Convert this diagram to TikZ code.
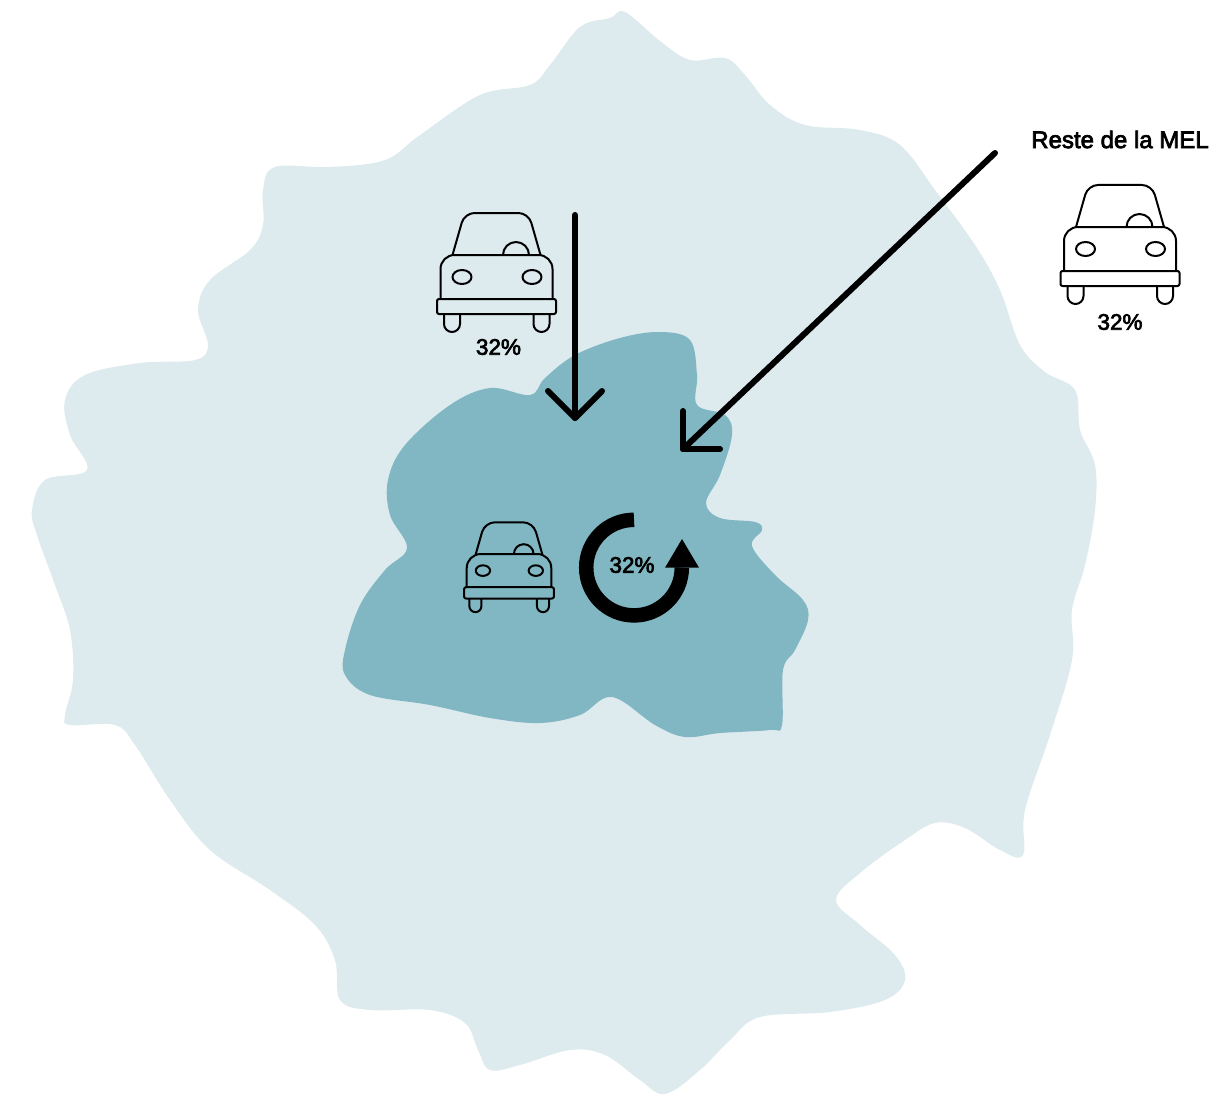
\documentclass[tikz,border=0pt]{standalone}
\usepackage{fontspec}
\setmainfont[FakeBold=3]{Liberation Sans}
\definecolor{outerblob}{HTML}{DDEAEE}
\definecolor{innerblob}{HTML}{81B7C3}
\tikzset{
  x=1pt,y=-1pt,
  carline/.style={draw=black,line width=2pt,line join=round},
  flow/.style={draw=black,line width=6pt,line cap=round,line join=round},
  pct/.style={inner sep=0pt,font=\fontsize{22.5}{24}\selectfont},
  car/.pic={
    \draw[carline,rounded corners=10pt] (-44,0)--(-32,-42)--(32,-42)--(44,0);
    \draw[carline] (6.5,0) arc[start angle=180,end angle=0,radius=13pt];
    \draw[carline,rounded corners=14pt] (-56,44)--(-56,0)--(56,0)--(56,44);
    \draw[carline,rounded corners=2pt] (-59.5,44) rectangle (59.5,59);
    \draw[carline] (-52.5,59)--(-52.5,69) arc[start angle=180,end angle=360,radius=8pt]--(-36.5,59);
    \draw[carline] (37,59)--(37,69) arc[start angle=180,end angle=360,radius=8pt]--(53,59);
    \draw[carline] (-34.5,22) ellipse[x radius=9.5pt,y radius=7pt];
    \draw[carline] (35.5,22) ellipse[x radius=9.5pt,y radius=7pt];
  }
}
\begin{document}
\begin{tikzpicture}
\useasboundingbox (0,0) rectangle (1209,1094);
\fill[outerblob] plot[smooth cycle,tension=0.6] coordinates {
(625,12)(660,41)(690,60)(725,58)(745,75)(770,105)(805,125)(860,130)(900,145)(935,190)(975,245)(1000,290)(1020,345)(1045,372)(1075,390)(1080,430)(1095,465)(1095,510)(1085,565)(1072,610)(1072,660)(1050,735)(1025,810)(1023,855)(1000,850)(965,828)(935,823)(905,840)(860,873)(836,900)(860,925)(895,955)(905,980)(885,1000)(830,1012)(760,1017)(730,1040)(700,1070)(665,1094)(640,1080)(605,1055)(570,1050)(520,1065)(490,1070)(478,1050)(465,1023)(430,1010)(370,1010)(340,1000)(335,960)(315,925)(270,890)(210,850)(170,800)(135,745)(115,725)(70,725)(65,715)(73,680)(70,630)(55,585)(37,535)(32,510)(45,480)(87,470)(70,435)(65,400)(85,375)(140,363)(195,360)(208,345)(198,310)(210,280)(250,250)(263,225)(263,190)(275,167)(330,167)(385,160)(420,135)(480,95)(530,85)(550,65)(580,27)(610,18)};
\fill[innerblob] plot[smooth cycle,tension=0.6] coordinates {
(660,332)(690,340)(697,375)(697,405)(725,415)(732,435)(720,475)(706,503)(720,518)(755,522)(762,530)(752,546)(775,575)(803,600)(808,620)(795,650)(783,670)(782,725)(770,730)(720,733)(685,737)(655,725)(612,697)(580,715)(540,723)(490,718)(430,705)(370,695)(345,675)(345,650)(360,605)(385,570)(407,548)(390,515)(388,480)(405,445)(450,405)(490,388)(530,395)(545,378)(575,355)(620,338)};
\pic at (496.5,255) {car};
\pic at (1120,227) {car};
\pic[scale=.755] at (509,554) {car};
\node[pct] (pctlocal) at (498.5,347) {32\%};
\node[pct] (pctmel) at (1120,322) {32\%};
\node[pct] (pctloop) at (632,565) {32\%};
\node[inner sep=0pt,font=\fontsize{24}{26}\selectfont] (mel) at (1120,139.5) {Reste de la MEL};
% flows
\coordinate (vstart) at (575,215);
\coordinate (vend) at (575,418);
\coordinate (vl) at (548,391);
\coordinate (vr) at (602,391);
\draw[flow] (vstart) -- (vend);
\draw[flow] (vl) -- (vend) -- (vr);
\coordinate (dstart) at (995,153);
\coordinate (dend) at (683,449);
\coordinate (da) at (683,411);
\coordinate (db) at (720,449);
\draw[flow] (dstart) -- (dend);
\draw[flow] (da) -- (dend) -- (db);
% loop
\draw[line width=14.5pt,draw=black] (634,519.8) arc[start angle=90,end angle=360,radius=47.8pt];
\fill[black] (665,567.7) -- (682,539) -- (699,567.7) -- cycle;
\end{tikzpicture}
\end{document}
